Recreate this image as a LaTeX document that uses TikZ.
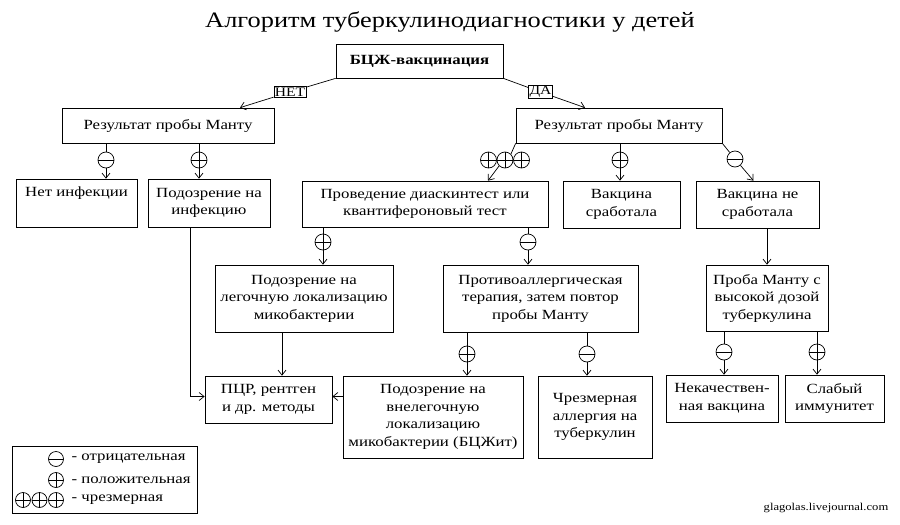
\documentclass[tikz,border=0pt]{standalone}
\usepackage{fontspec}
\setmainfont{Liberation Serif}[FakeStretch=1.2]
\usetikzlibrary{arrows.meta}

\begin{document}
\begin{tikzpicture}[x=1pt,y=-1pt,line width=0.7pt]
	\tikzstyle{every node}=[font=\fontsize{14}{17.5}\selectfont]
	\tikzstyle{box}=[draw, inner sep=0pt, align=center]
	\tikzstyle{lbl}=[draw, line width=0.5pt, inner sep=1pt, fill=white, font=\fontsize{13}{13}\selectfont]
	\tikzstyle{arr}=[-{Straight Barb[length=5pt,width=8pt]}]
	\tikzstyle{negsign}=[circle, draw, fill=white, minimum size=16pt, inner sep=0pt, path picture={\draw (path picture bounding box.west) -- (path picture bounding box.east);}]
	\tikzstyle{possign}=[negsign, path picture={\draw (path picture bounding box.west) -- (path picture bounding box.east) (path picture bounding box.north) -- (path picture bounding box.south);}]
	\tikzstyle{legtext}=[anchor=west, font=\fontsize{14}{14}\selectfont]
	
	\useasboundingbox (0,0) rectangle (900,525);
	
	\node[font=\fontsize{22}{22}\selectfont] (title) at (450,22) {Алгоритм туберкулинодиагностики у детей};
	
	% boxes
	\node[box, minimum width=167pt, minimum height=34pt, font=\fontsize{14}{17}\selectfont\bfseries] (bcg) at (419.5,61) {БЦЖ-вакцинация};
	\node[box, minimum width=212pt, minimum height=35pt] (mantuL) at (168,125.5) {Результат пробы Манту};
	\node[box, minimum width=206pt, minimum height=35pt] (mantuR) at (619,125.5) {Результат пробы Манту};
	\node[box, minimum width=121pt, text height=17pt, text depth=31pt] (noinf) at (76.5,203) {Нет инфекции};
	\node[box, minimum width=122pt, minimum height=48pt] (susp) at (209,203) {Подозрение на\\инфекцию};
	\node[box, minimum width=246pt, minimum height=46pt] (diask) at (425,204) {Проведение диаскинтест или\\квантифероновый тест};
	\node[box, minimum width=117pt, minimum height=47pt] (vacok) at (621.5,204.5) {Вакцина\\сработала};
	\node[box, minimum width=123pt, minimum height=47pt] (vacno) at (757.5,204.5) {Вакцина не\\сработала};
	\node[box, minimum width=178pt, minimum height=67pt] (lung) at (304,298.5) {Подозрение на\\легочную локализацию\\микобактерии};
	\node[box, minimum width=195pt, minimum height=67pt] (anti) at (540.5,298.5) {Противоаллергическая\\терапия, затем повтор\\пробы Манту};
	\node[box, minimum width=122pt, minimum height=66pt] (hidose) at (767,298) {Проба Манту с\\высокой дозой\\туберкулина};
	\node[box, minimum width=127pt, minimum height=47pt] (pcr) at (268.5,399.5) {ПЦР, рентген\\и др. методы};
	\node[box, minimum width=180pt, minimum height=82pt] (extra) at (433,417) {Подозрение на\\внелегочную\\локализацию\\микобактерии (БЦЖит)};
	\node[box, minimum width=114pt, minimum height=82pt] (allerg) at (595,417) {Чрезмерная\\аллергия на\\туберкулин};
	\node[box, minimum width=112pt, minimum height=47pt] (badvac) at (722,398.5) {Некачествен-\\ная вакцина};
	\node[box, minimum width=99pt, minimum height=47pt] (weak) at (834.5,398.5) {Слабый\\иммунитет};
	
	% first split
	\node[lbl] (no) at (290,92) {НЕТ};
	\node[lbl] (yes) at (540.5,92) {ДА};
	\draw[arr] (bcg.south west) -- (no) -- ([xshift=72pt]mantuL.north);
	\draw[arr] (bcg.south east) -- (yes) -- ([xshift=-34pt]mantuR.north);
	
	% left branch
	\node[negsign] (n1) at (106,160) {};
	\node[possign] (p1) at (199,160) {};
	\draw (mantuL.south -| n1) -- (n1);
	\draw[arr] (n1) -- (noinf.north -| n1);
	\draw (mantuL.south -| p1) -- (p1);
	\draw[arr] (p1) -- (susp.north -| p1);
	
	% right branch
	\node[possign] (t1) at (488.5,160) {};
	\node[possign] (t2) at (505,160) {};
	\node[possign] (t3) at (521.5,160) {};
	\draw (mantuR.south west) -- (t2.north east);
	\draw[arr] (t2.south west) -- ([xshift=63pt]diask.north);
	\node[possign] (p2) at (620,160) {};
	\draw (mantuR.south -| p2) -- (p2);
	\draw[arr] (p2) -- (vacok.north -| p2);
	\node[negsign] (n2) at (735,159) {};
	\draw (mantuR.south east) -- (n2);
	\draw[arr] (n2) -- ([xshift=-4pt]vacno.north);
	
	\node[possign] (p3) at (323,242) {};
	\draw (diask.south -| p3) -- (p3);
	\draw[arr] (p3) -- (lung.north -| p3);
	\node[negsign] (n3) at (528,242) {};
	\draw (diask.south -| n3) -- (n3);
	\draw[arr] (n3) -- (anti.north -| n3);
	\draw[arr] (vacno.south -| hidose.north) -- (hidose.north);
	
	% towards pcr
	\coordinate (pcrL) at ([yshift=3pt]pcr.west);
	\coordinate (pcrR) at ([yshift=3pt]pcr.east);
	\draw[arr] ([xshift=-22pt]lung.south) -- ([xshift=-22pt]lung.south |- pcr.north);
	\draw[arr] ([xshift=-19pt]susp.south) |- (pcrL);
	\draw[arr] (extra.west |- pcrR) -- (pcrR);
	
	\node[possign] (p4) at (467,354) {};
	\draw (anti.south -| p4) -- (p4);
	\draw[arr] (p4) -- (extra.north -| p4);
	\node[negsign] (n4) at (587,354) {};
	\draw (anti.south -| n4) -- (n4);
	\draw[arr] (n4) -- (allerg.north -| n4);
	\node[negsign] (n5) at (724,352) {};
	\draw (hidose.south -| n5) -- (n5);
	\draw[arr] (n5) -- (badvac.north -| n5);
	\node[possign] (p5) at (817,352) {};
	\draw (hidose.south -| p5) -- (p5);
	\draw[arr] (p5) -- (weak.north -| p5);
	
	% legend
	\node[draw, minimum width=185pt, minimum height=67pt] (legend) at (104.5,479.5) {};
	\node[negsign, minimum size=15pt] (lneg) at (56,459) {};
	\node[possign, minimum size=15pt] (lpos) at (56,480) {};
	\node[possign, minimum size=15pt] (lex1) at (23,500) {};
	\node[possign, minimum size=15pt] (lex2) at (39.5,500) {};
	\node[possign, minimum size=15pt] (lex3) at (56,500) {};
	\node[legtext] (tneg) at (68,459) {- отрицательная};
	\node[legtext] (tpos) at (68,480) {- положительная};
	\node[legtext] (tex) at (68,500) {- чрезмерная};
	
	\node[font=\fontsize{10.5}{10.5}\selectfont] (src) at (826,508) {glagolas.livejournal.com};
\end{tikzpicture}
\end{document}
